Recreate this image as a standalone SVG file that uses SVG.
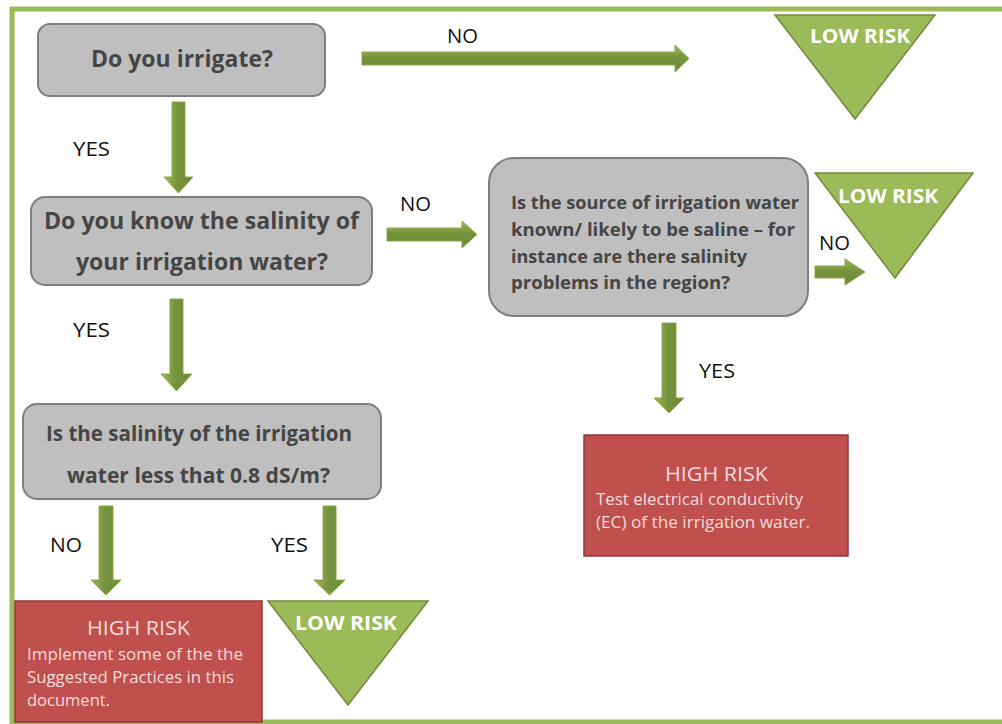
<svg xmlns="http://www.w3.org/2000/svg" width="1002" height="724" viewBox="0 0 1002 724">
<defs>
<linearGradient id="gv" x1="0" y1="0" x2="1" y2="0">
<stop offset="0" stop-color="#9bbb59"/><stop offset="0.45" stop-color="#77933c"/><stop offset="1" stop-color="#6b8a34"/>
</linearGradient>
<linearGradient id="gh" x1="0" y1="0" x2="0" y2="1">
<stop offset="0" stop-color="#9bbb59"/><stop offset="0.45" stop-color="#77933c"/><stop offset="1" stop-color="#6b8a34"/>
</linearGradient>
<style>
.q{fill:#bfbfbf;stroke:#7f7f7f;stroke-width:2}
.qt{font-family:"Open Sans","Liberation Sans",sans-serif;font-weight:bold;fill:#454545}
.hr{fill:#c0504d;stroke:#8c3836;stroke-width:1.5}
.ht{font-family:"Open Sans","Liberation Sans",sans-serif;fill:#f2dcdb}
.lr{fill:#9bbb59;stroke:#71893f;stroke-width:1.5}
.lt{font-family:"Open Sans","Liberation Sans",sans-serif;font-weight:bold;font-size:20px;fill:#ffffff;text-anchor:middle}
.lb{font-family:"Open Sans","Liberation Sans",sans-serif;font-size:20px;fill:#111}
.av{fill:url(#gv);stroke:#8aa84c;stroke-width:1}
.ah{fill:url(#gh);stroke:#8aa84c;stroke-width:1}
</style>
</defs>
<rect x="12" y="9" width="1000" height="713" fill="#ffffff" stroke="#9bbb59" stroke-width="5"/>

<g id="connectors">
<polygon class="av" points="172,102 185,102 185,177 193,177 178.5,193 164,177 172,177"/>
<polygon class="av" points="170,299 183,299 183,374 192,374 176.5,391 161,374 170,374"/>
<polygon class="ah" points="362,52 675,52 675,45 689,58.5 675,72 675,65 362,65"/>
<polygon class="ah" points="387,228 462,228 462,221 477,234.5 462,248 462,241 387,241"/>
<polygon class="ah" points="815,266 845,266 845,259 865,272 845,285 845,278 815,278"/>
<polygon class="av" points="662,323 676,323 676,398 684,398 669,413 654,398 662,398"/>
<polygon class="av" points="99,506 113,506 113,580 121,580 106,595 91,580 99,580"/>
<polygon class="av" points="323,506 336,506 336,580 345,580 329.5,595 314,580 323,580"/>
<text class="lb" x="447" y="43" textLength="31" lengthAdjust="spacingAndGlyphs">NO</text>
<text class="lb" x="73" y="156" textLength="37" lengthAdjust="spacingAndGlyphs">YES</text>
<text class="lb" x="400" y="211" textLength="31" lengthAdjust="spacingAndGlyphs">NO</text>
<text class="lb" x="73" y="337" textLength="37" lengthAdjust="spacingAndGlyphs">YES</text>
<text class="lb" x="819" y="250" textLength="31" lengthAdjust="spacingAndGlyphs">NO</text>
<text class="lb" x="699" y="378" textLength="36" lengthAdjust="spacingAndGlyphs">YES</text>
<text class="lb" x="50" y="552" textLength="32" lengthAdjust="spacingAndGlyphs">NO</text>
<text class="lb" x="271" y="552" textLength="37" lengthAdjust="spacingAndGlyphs">YES</text>
</g>

<g id="q1">
<rect class="q" x="38" y="24" width="287" height="72" rx="12"/>
<text class="qt" x="182" y="67" font-size="24" text-anchor="middle" textLength="182" lengthAdjust="spacingAndGlyphs">Do you irrigate?</text>
</g>
<g id="q2">
<rect class="q" x="31" y="197" width="341" height="88" rx="14"/>
<text class="qt" x="201.5" y="229" font-size="24" text-anchor="middle" textLength="315" lengthAdjust="spacingAndGlyphs">Do you know the salinity of</text>
<text class="qt" x="202" y="270" font-size="24" text-anchor="middle" textLength="252" lengthAdjust="spacingAndGlyphs">your irrigation water?</text>
</g>
<g id="q3">
<rect class="q" x="489" y="158" width="319" height="158" rx="25"/>
<text class="qt" x="511" y="209" font-size="18" textLength="288" lengthAdjust="spacingAndGlyphs">Is the source of irrigation water</text>
<text class="qt" x="511" y="236" font-size="18" textLength="284" lengthAdjust="spacingAndGlyphs">known/ likely to be saline – for</text>
<text class="qt" x="511" y="263" font-size="18" textLength="236" lengthAdjust="spacingAndGlyphs">instance are there salinity</text>
<text class="qt" x="511" y="289" font-size="18" textLength="219" lengthAdjust="spacingAndGlyphs">problems in the region?</text>
</g>
<g id="q4">
<rect class="q" x="23" y="404" width="358" height="95" rx="14"/>
<text class="qt" x="199" y="441" font-size="22" text-anchor="middle" textLength="306" lengthAdjust="spacingAndGlyphs">Is the salinity of the irrigation</text>
<text class="qt" x="198.5" y="483" font-size="22" text-anchor="middle" textLength="263" lengthAdjust="spacingAndGlyphs">water less that 0.8 dS/m?</text>
</g>
<g id="low1">
<polygon class="lr" points="775,15 935,15 855,119"/>
<text class="lt" x="860" y="43" textLength="100" lengthAdjust="spacingAndGlyphs">LOW RISK</text>
</g>
<g id="low2">
<polygon class="lr" points="815,173 973,173 895,278"/>
<text class="lt" x="888" y="203" textLength="100" lengthAdjust="spacingAndGlyphs">LOW RISK</text>
</g>
<g id="low3">
<polygon class="lr" points="268,601 428,601 348,705"/>
<text class="lt" x="346" y="630" textLength="102" lengthAdjust="spacingAndGlyphs">LOW RISK</text>
</g>
<g id="high1">
<rect class="hr" x="584" y="435" width="264" height="121"/>
<text class="ht" x="716.5" y="481" font-size="20" text-anchor="middle" textLength="103" lengthAdjust="spacingAndGlyphs">HIGH RISK</text>
<text class="ht" x="596" y="505" font-size="16" textLength="207" lengthAdjust="spacingAndGlyphs">Test electrical conductivity</text>
<text class="ht" x="596" y="528" font-size="16" textLength="214" lengthAdjust="spacingAndGlyphs">(EC) of the irrigation water.</text>
</g>
<g id="high2">
<rect class="hr" x="15" y="601" width="247" height="121"/>
<text class="ht" x="138.5" y="635" font-size="20" text-anchor="middle" textLength="103" lengthAdjust="spacingAndGlyphs">HIGH RISK</text>
<text class="ht" x="27" y="660" font-size="16" textLength="216" lengthAdjust="spacingAndGlyphs">Implement some of the the</text>
<text class="ht" x="27" y="683" font-size="16" textLength="207" lengthAdjust="spacingAndGlyphs">Suggested Practices in this</text>
<text class="ht" x="27" y="706" font-size="16" textLength="83" lengthAdjust="spacingAndGlyphs">document.</text>
</g>
</svg>
